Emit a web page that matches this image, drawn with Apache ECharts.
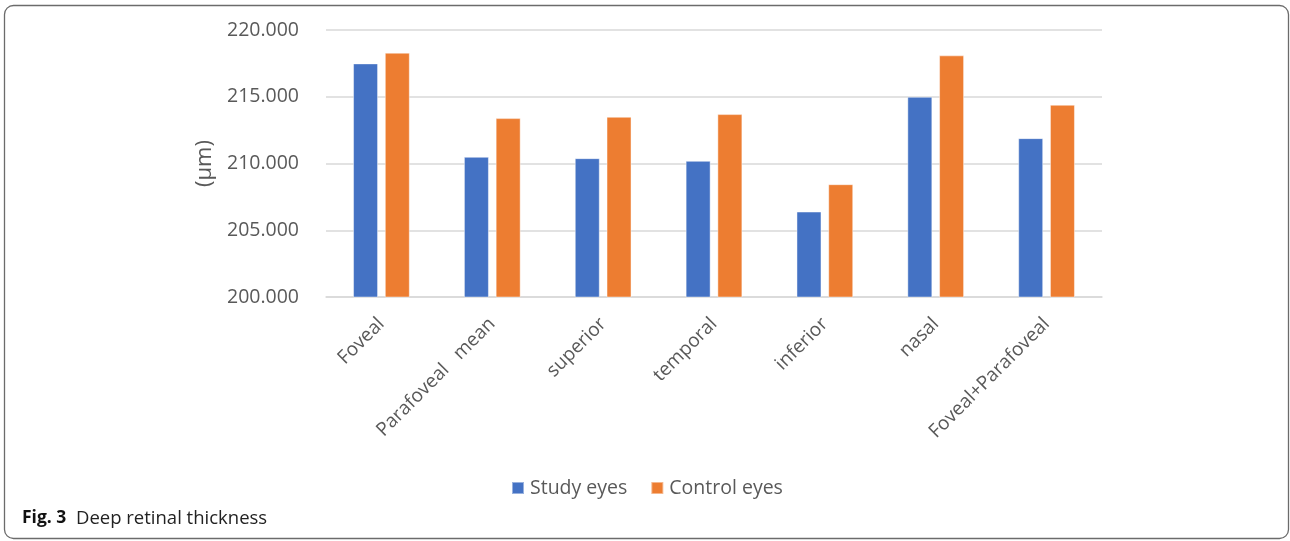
<!DOCTYPE html>
<html>
<head>
<meta charset="utf-8">
<script src="https://cdn.jsdelivr.net/npm/echarts@6/dist/echarts.min.js"></script>
<style>
  html, body { margin: 0; padding: 0; background: #fff; }
  #chart { width: 1290px; height: 541px; }
</style>
</head>
<body>
<div id="chart"></div>
<script>
// Deep retinal thickness (µm) by macular region
const categories = ['Foveal', 'Parafoveal   mean', 'superior', 'temporal', 'inferior', 'nasal', 'Foveal+Parafoveal'];
const studyEyes = [217.5, 210.5, 210.4, 210.2, 206.4, 215.0, 211.9];
const controlEyes = [218.3, 213.4, 213.5, 213.7, 208.45, 218.1, 214.4];
const seriesNames = ['Study eyes', 'Control eyes'];
const yMin = 200, yMax = 220, yStep = 5;

const textColor = '#595959';
const fontFamily = '"Open Sans", "Noto Sans", sans-serif';

const chart = echarts.init(document.getElementById('chart'), null, { renderer: 'canvas' });

chart.setOption({
  animation: false,
  backgroundColor: '#fff',
  grid: { left: 326, right: 188, top: 30, bottom: 244 },
  legend: {
    data: seriesNames,
    left: 511,
    top: 478,
    padding: 0,
    itemWidth: 12,
    itemHeight: 12,
    itemGap: 23,
    icon: 'rect',
    textStyle: { color: textColor, fontSize: 19.5, fontFamily: fontFamily, padding: [0, 0, 0, 1] }
  },
  xAxis: {
    type: 'category',
    data: categories,
    axisLine: { lineStyle: { color: '#D9D9D9', width: 1.5 } },
    axisTick: { show: false },
    axisLabel: {
      rotate: 45,
      interval: 0,
      margin: 24,
      color: textColor,
      fontSize: 19,
      fontFamily: fontFamily
    }
  },
  yAxis: {
    type: 'value',
    min: yMin,
    max: yMax,
    interval: yStep,
    name: '(µm)',
    nameLocation: 'middle',
    nameGap: 110,
    nameRotate: 90,
    nameTextStyle: { color: textColor, fontSize: 22, fontFamily: fontFamily },
    axisLine: { show: false },
    axisTick: { show: false },
    splitLine: { lineStyle: { color: '#D9D9D9', width: 1.5 } },
    axisLabel: {
      margin: 27,
      color: textColor,
      fontSize: 19.5,
      fontFamily: fontFamily,
      formatter: v => v.toFixed(3)
    }
  },
  series: [
    {
      name: seriesNames[0],
      type: 'bar',
      data: studyEyes,
      barWidth: 25,
      barGap: '27%',
      itemStyle: { color: '#4472C4', borderColor: 'rgba(255,255,255,0.45)', borderWidth: 1 }
    },
    {
      name: seriesNames[1],
      type: 'bar',
      data: controlEyes,
      barWidth: 25,
      itemStyle: { color: '#ED7D31', borderColor: 'rgba(255,255,255,0.45)', borderWidth: 1 }
    }
  ],
  graphic: [
    {
      type: 'rect',
      silent: true,
      shape: { x: 4.5, y: 5.5, width: 1284, height: 533, r: 9 },
      style: { fill: 'none', stroke: '#6b6b6b', lineWidth: 1.3 }
    },
    {
      type: 'text',
      left: 22,
      top: 509,
      style: {
        text: '{b|Fig. 3}  Deep retinal thickness',
        fontSize: 18.5,
        fontFamily: fontFamily,
        fill: '#222',
        rich: {
          b: { fontWeight: 'bold', fontSize: 17.5, fontFamily: fontFamily, fill: '#111' }
        }
      }
    }
  ]
});
</script>
</body>
</html>
